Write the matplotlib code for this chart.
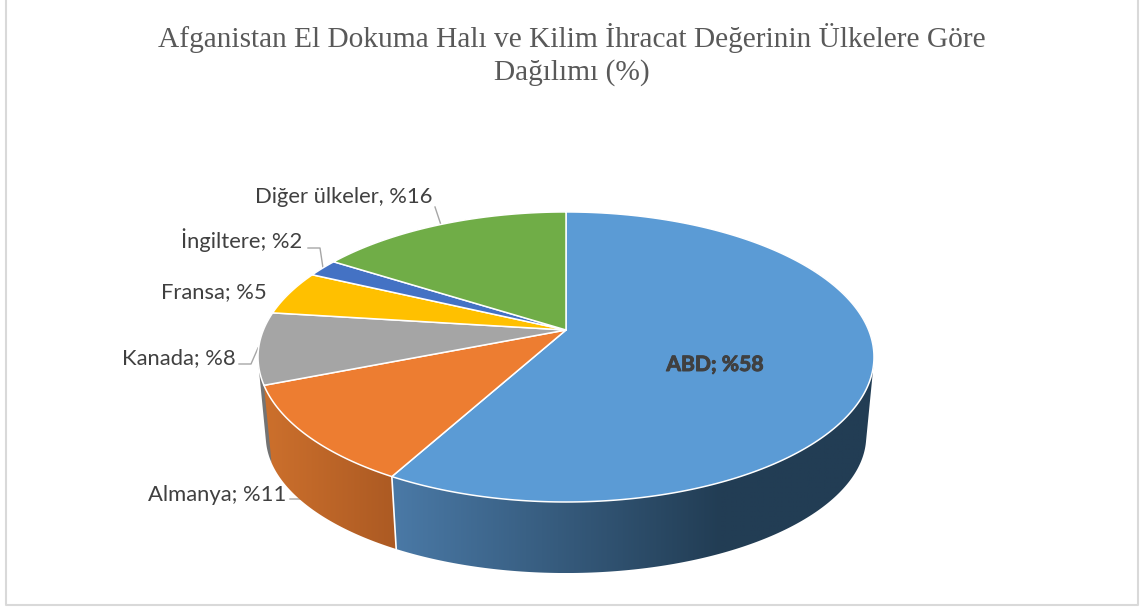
import numpy as np
import matplotlib
matplotlib.use("Agg")
import matplotlib.pyplot as plt
import matplotlib.patheffects as pe
from matplotlib.colors import to_rgb
from matplotlib.patches import Polygon

title = "Afganistan El Dokuma Halı ve Kilim İhracat Değerinin Ülkelere Göre\nDağılımı (%)"
categories = ["ABD", "Almanya", "Kanada", "Fransa", "İngiltere", "Diğer ülkeler"]
values = [58, 11, 8, 5, 2, 16]
separators = ["; ", "; ", "; ", "; ", "; ", ", "]
top_colors = ["#5B9BD5", "#ED7D31", "#A5A5A5", "#FFC000", "#4472C4", "#70AD47"]
side_left = ["#4A79A6", "#CB6F2C", "#777777", "#B98A00", "#31538E", "#517D33"]
side_right = ["#223D54", "#AC5A23", "#6A6A6A", "#A87E00", "#2C4A80", "#4A732E"]

CX, Y0, R, H, K = 566.0, 330.0, 302.6, 140.0, 0.186
R2, Y2, H2 = 295.0, 410.5, 132.3


def project(theta, r, y0, h):
    u, v = np.sin(theta), np.cos(theta)
    w = 1 + K * v
    return CX + r * u / w, y0 - h * v / w


def hull(points):
    pts = sorted(set(map(tuple, points)))

    def half(seq):
        out = []
        for p in seq:
            while len(out) > 1 and ((out[-1][0] - out[-2][0]) * (p[1] - out[-2][1])
                                    - (out[-1][1] - out[-2][1]) * (p[0] - out[-2][0])) <= 0:
                out.pop()
            out.append(p)
        return out[:-1]

    return np.array(half(pts) + half(pts[::-1]))


fig = plt.figure(figsize=(11.46, 6.10), dpi=100, facecolor="white")
ax = fig.add_axes([0, 0, 1, 1])

# frame
ax.plot([6, 6, 1137.5, 1137.5], [0, 605, 605, 0], color="#D9D9D9", lw=1.5, zorder=1)

edges = np.radians(np.concatenate([[0], np.cumsum(values)]) * 3.6)
ramps = {0: (395.0, 720.0), 1: (270.0, 395.0)}

# side walls, back to front
for i in [2, 3, 4, 5, 0, 1]:
    start = max(edges[i], np.radians(60)) if i == 0 else edges[i]
    t = np.linspace(start, edges[i + 1], 200)
    x1, y1 = project(t, R, Y0, H)
    x2, y2 = project(t, R2, Y2, H2)
    outline = hull(np.column_stack([np.r_[x1, x2], np.r_[y1, y2]]))
    xa, xb = ramps.get(i, (255.0, 300.0))
    f = np.linspace(0, 1, 256)[None, :, None]
    c0, c1 = np.array(to_rgb(side_left[i])), np.array(to_rgb(side_right[i]))
    ramp = c0[None, None, :] + (c1 - c0)[None, None, :] * f
    left, right = min(xa, outline[:, 0].min()), max(xb, outline[:, 0].max())
    # pad the ramp so it stays flat outside [xa, xb]
    xs = np.linspace(left, right, 512)
    g = np.clip((xs - xa) / (xb - xa), 0, 1)[None, :, None]
    ramp = c0[None, None, :] + (c1 - c0)[None, None, :] * g
    im = ax.imshow(ramp, extent=(left, right, outline[:, 1].max(), outline[:, 1].min()),
                   aspect="auto", interpolation="bilinear", zorder=3)
    clip = Polygon(outline, closed=True, transform=ax.transData, facecolor="none", edgecolor="none")
    ax.add_patch(clip)
    im.set_clip_path(clip)

ax.set_xlim(0, 1146)
ax.set_ylim(610, 0)
ax.axis("off")

# white seam between ABD and Almanya sides
sx1, sy1 = project(edges[1], R, Y0, H)
sx2, sy2 = project(edges[1], R2, Y2, H2)
ax.plot([sx1, sx2], [sy1, sy2], color="white", lw=1.2, zorder=4)

# top faces
for i, col in enumerate(top_colors):
    t = np.linspace(edges[i], edges[i + 1], 240)
    x, y = project(t, R, Y0, H)
    pts = np.column_stack([np.r_[CX, x], np.r_[Y0, y]])
    ax.add_patch(Polygon(pts, closed=True, facecolor=col, edgecolor="white", lw=1.1, zorder=5, joinstyle="round"))

# leader lines
leaders = [
    ([435, 441], [207, 225]),
    ([308, 320, 323], [248, 248, 268]),
    ([239, 251, 258], [364, 364, 348]),
    ([290, 305, 315], [499, 499, 504]),
]
for lx, ly in leaders:
    ax.plot(lx, ly, color="#A6A6A6", lw=1.0, zorder=2)

# labels
label_pos = [(715, 365), (148, 495), (122, 358), (161, 292), (181, 240), (255, 197)]
for c, v, s, (lx, ly) in zip(categories, values, separators, label_pos):
    txt = f"{c}{s}%{v}"
    if c == "ABD":
        ax.text(lx, ly, txt, ha="center", va="center", family="Lato", fontsize=15.2,
                fontweight="bold", color="#404040", zorder=6,
                path_effects=[pe.withStroke(linewidth=0.7, foreground="#404040")])
    else:
        ax.text(lx, ly, txt, ha="left", va="center", family="Lato", fontsize=15.8,
                color="#404040", zorder=6)

ax.text(572, 54.5, title, ha="center", va="center", family="Liberation Serif", fontsize=21.2,
        color="#595959", linespacing=1.25, zorder=6)

fig.savefig("out.png", dpi=100, facecolor="white")
